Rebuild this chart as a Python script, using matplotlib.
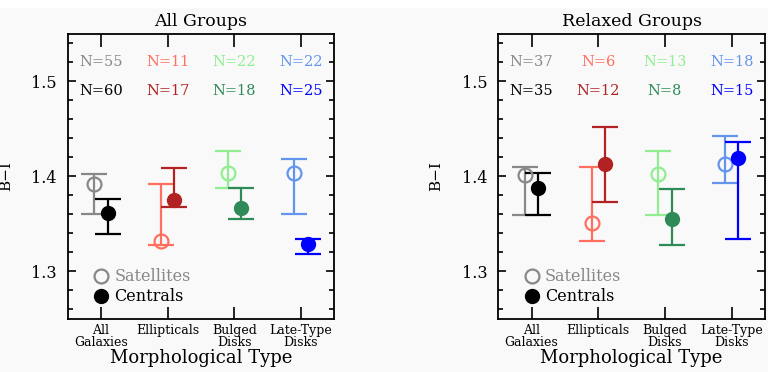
import numpy as np
import matplotlib.pyplot as plt
from matplotlib.ticker import MultipleLocator
from matplotlib.patches import Rectangle

# ---------------------------------------------------------
# Mean B-I colour per morphological type
# ---------------------------------------------------------
categories = ["All\nGalaxies", "Ellipticals", "Bulged\nDisks", "Late-Type\nDisks"]
sat_colors = ["#888888", "#ff6f5f", "#90ee90", "#6495ed"]
cen_colors = ["#000000", "#b22222", "#2e8b57", "#0000ff"]

# All groups
all_sat = [1.392, 1.332, 1.404, 1.403]
all_sat_hi = [1.402, 1.392, 1.427, 1.418]
all_sat_lo = [1.360, 1.328, 1.388, 1.360]
all_cen = [1.361, 1.3755, 1.367, 1.329]
all_cen_hi = [1.376, 1.409, 1.388, 1.334]
all_cen_lo = [1.339, 1.368, 1.355, 1.318]
all_n_sat = [55, 11, 22, 22]
all_n_cen = [60, 17, 18, 25]

# Relaxed groups
rel_sat = [1.401, 1.351, 1.402, 1.413]
rel_sat_hi = [1.410, 1.410, 1.427, 1.442]
rel_sat_lo = [1.359, 1.332, 1.359, 1.393]
rel_cen = [1.388, 1.413, 1.355, 1.419]
rel_cen_hi = [1.403, 1.452, 1.387, 1.436]
rel_cen_lo = [1.359, 1.373, 1.328, 1.334]
rel_n_sat = [37, 6, 13, 18]
rel_n_cen = [35, 12, 8, 15]

BG = "#f9f9f9"
FONT = "DejaVu Serif"
plt.rcParams["font.family"] = FONT


def draw_panel(ax, title, sat, sat_hi, sat_lo, cen, cen_hi, cen_lo, n_sat, n_cen):
    x = np.arange(1, len(categories) + 1)
    for i in range(len(categories)):
        ax.errorbar(x[i] - 0.1, sat[i],
                    yerr=[[sat[i] - sat_lo[i]], [sat_hi[i] - sat[i]]],
                    fmt="o", ms=10, mfc="none", mec=sat_colors[i], mew=1.6,
                    color=sat_colors[i], elinewidth=1.6, capsize=9.5, capthick=1.6)
        ax.errorbar(x[i] + 0.1, cen[i],
                    yerr=[[cen[i] - cen_lo[i]], [cen_hi[i] - cen[i]]],
                    fmt="o", ms=10, mfc=cen_colors[i], mec=cen_colors[i],
                    color=cen_colors[i], elinewidth=1.6, capsize=9.5, capthick=1.6)
        ax.text(x[i], 1.52, f"N={n_sat[i]}", color=sat_colors[i],
                ha="center", va="center", fontsize=10.5)
        ax.text(x[i], 1.49, f"N={n_cen[i]}", color=cen_colors[i],
                ha="center", va="center", fontsize=10.5)

    # legend drawn by hand
    ax.plot([1.0], [1.2947], "o", ms=10, mfc="none", mec="#888888", mew=1.6)
    ax.plot([1.0], [1.2737], "o", ms=10, mfc="black", mec="black")
    ax.text(1.2, 1.2947, "Satellites", color="#888888", va="center", fontsize=11.5)
    ax.text(1.2, 1.2737, "Centrals", color="black", va="center", fontsize=11.5)

    ax.set_xlim(0.5, 4.5)
    ax.set_ylim(1.25, 1.55)
    ax.set_xticks(x)
    ax.set_xticklabels(categories, fontsize=9, linespacing=0.9)
    ax.yaxis.set_major_locator(MultipleLocator(0.1))
    ax.yaxis.set_minor_locator(MultipleLocator(0.02))
    ax.yaxis.set_major_formatter(plt.FormatStrFormatter("%.1f"))
    ax.tick_params(axis="x", which="major", direction="in", top=True,
                   length=9, width=1.2, pad=4)
    ax.tick_params(axis="y", which="major", direction="in", right=True,
                   length=5.5, width=1.2, labelsize=11.5, pad=8)
    ax.tick_params(axis="y", which="minor", direction="in", right=True,
                   length=3.5, width=1.2)
    for s in ax.spines.values():
        s.set_linewidth(1.3)
    ax.set_facecolor(BG)
    ax.set_title(title, fontsize=12.5, pad=6)
    ax.set_xlabel("Morphological Type", fontsize=13, labelpad=0)
    ax.set_ylabel("B\u2212I", fontsize=11)
    ax.yaxis.set_label_coords(-0.205, 0.5)


fig = plt.figure(figsize=(7.68, 3.72), dpi=100, facecolor=BG)
fig.patches.append(Rectangle((0, 0.981), 1, 0.019, transform=fig.transFigure,
                             color="white", zorder=-1))
ax1 = fig.add_axes([0.0882, 0.1433, 0.3471, 0.7653])
ax2 = fig.add_axes([0.6488, 0.1433, 0.3473, 0.7653])

draw_panel(ax1, "All Groups", all_sat, all_sat_hi, all_sat_lo,
           all_cen, all_cen_hi, all_cen_lo, all_n_sat, all_n_cen)
draw_panel(ax2, "Relaxed Groups", rel_sat, rel_sat_hi, rel_sat_lo,
           rel_cen, rel_cen_hi, rel_cen_lo, rel_n_sat, rel_n_cen)

fig.savefig("out.png", dpi=100, facecolor=BG)
